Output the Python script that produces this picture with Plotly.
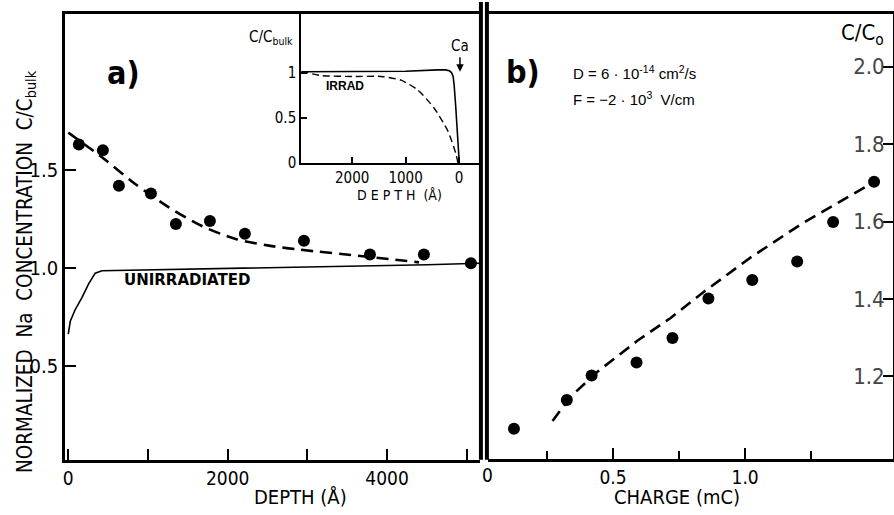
import plotly.graph_objects as go

W, H = 894, 515
FONT = "Liberation Sans Narrow, DejaVu Sans Condensed, Roboto Condensed, Noto Sans Condensed, Open Sans Condensed, Roboto"
FONT_R = "Liberation Sans, Arial, sans-serif"
FONT_B = "DejaVu Sans, Liberation Sans, sans-serif"

# ---- panel a) main data ----
depth_pts = [133, 434, 635, 1037, 1350, 1777, 2216, 2957, 3785, 4462, 5052]
conc_pts = [1.63, 1.60, 1.42, 1.38, 1.225, 1.24, 1.175, 1.14, 1.07, 1.07, 1.025]
fit_depth = [0, 422, 836, 1262, 1677, 2091, 2518, 2893, 3722, 4400]
fit_conc = [1.69, 1.565, 1.43, 1.31, 1.215, 1.15, 1.115, 1.095, 1.06, 1.03]
unirr_depth = [0, 25, 87, 171, 255, 338, 422, 1500, 3000, 4500, 5165]
unirr_conc = [0.665, 0.73, 0.79, 0.85, 0.92, 0.975, 0.987, 0.995, 1.005, 1.018, 1.025]
depth_ticks = [0, 2000, 4000]
depth_minor = [1000, 3000, 5000]
conc_ticks = [0.5, 1.0, 1.5]
conc_ticktext = ["0.5", "1.0", "1.5"]

# ---- inset data ----
ins_solid_depth = [2953, 2000, 1000, 400, 250, 180, 140, 110, 90, 60, 24, -6]
ins_solid_conc = [1.01, 1.01, 1.015, 1.03, 1.03, 1.02, 1.0, 0.96, 0.86, 0.62, 0.30, 0.0]
ins_irr_depth = [2953, 2580, 1960, 1458, 1084, 772, 467, 211, 56, 19]
ins_irr_conc = [1.014, 0.967, 0.957, 0.957, 0.916, 0.808, 0.609, 0.359, 0.10, 0.0]
ins_xticks = [2000, 1000, 0]
ins_yticks = [0, 0.5, 1]
ins_yticktext = ["0", "0.5", "1"]

# ---- panel b) data ----
charge_pts = [0.125, 0.325, 0.419, 0.589, 0.725, 0.861, 1.027, 1.197, 1.333, 1.488]
ratio_pts = [1.065, 1.139, 1.2025, 1.236, 1.299, 1.401, 1.449, 1.497, 1.599, 1.703]
charge_fit = [0.271, 0.340, 0.441, 0.592, 0.718, 0.843, 1.020, 1.220, 1.466]
ratio_fit = [1.085, 1.148, 1.212, 1.292, 1.351, 1.418, 1.507, 1.597, 1.694]
charge_ticks = [0.5, 1.0, 1.5]
charge_ticktext = ["0.5", "1.0", "1.5"]
charge_minor = [0.25, 0.75, 1.25]
ratio_ticks = [1.2, 1.4, 1.6, 1.8, 2.0]
ratio_ticktext = ["1.2", "1.4", "1.6", "1.8", "2.0"]


def xp(px):
    return px / W


def yp(py):
    return 1 - py / H


fig = go.Figure()

# panel a
fig.add_trace(go.Scatter(x=fit_depth, y=fit_conc, mode="lines",
                         line=dict(color="black", width=2.6, dash="12px,7px", shape="spline", smoothing=0.8),
                         xaxis="x", yaxis="y"))
fig.add_trace(go.Scatter(x=unirr_depth, y=unirr_conc, mode="lines", line=dict(color="black", width=1.6),
                         xaxis="x", yaxis="y"))
fig.add_trace(go.Scatter(x=depth_pts, y=conc_pts, mode="markers", marker=dict(color="black", size=12),
                         xaxis="x", yaxis="y"))
# inset
fig.add_trace(go.Scatter(x=ins_solid_depth, y=ins_solid_conc, mode="lines", line=dict(color="black", width=1.6),
                         xaxis="x2", yaxis="y2"))
fig.add_trace(go.Scatter(x=ins_irr_depth, y=ins_irr_conc, mode="lines",
                         line=dict(color="black", width=1.4, dash="7px,4px", shape="spline", smoothing=0.6),
                         xaxis="x2", yaxis="y2"))
# panel b
fig.add_trace(go.Scatter(x=charge_fit, y=ratio_fit, mode="lines",
                         line=dict(color="black", width=2.6, dash="12px,7px"),
                         xaxis="x3", yaxis="y3"))
fig.add_trace(go.Scatter(x=charge_pts, y=ratio_pts, mode="markers", marker=dict(color="black", size=12),
                         xaxis="x3", yaxis="y3"))

axcommon = dict(showgrid=False, zeroline=False, showline=True, linecolor="black", color="black")

fig.update_layout(
    width=W, height=H, margin=dict(l=0, r=0, t=0, b=0),
    paper_bgcolor="white", plot_bgcolor="rgba(0,0,0,0)", showlegend=False,
    xaxis=dict(**axcommon, domain=[xp(63), xp(479)], range=[-43, 5165], anchor="y",
               tickvals=depth_ticks, ticks="inside", ticklen=11, tickwidth=2,
               minor=dict(tickvals=depth_minor, ticks="inside", ticklen=11, tickwidth=2, tickcolor="black"),
               linewidth=2.5, mirror=True, tickfont=dict(family=FONT, size=19)),
    yaxis=dict(**axcommon, domain=[yp(468), yp(14)], range=[0.025, 2.295], anchor="x",
               tickvals=conc_ticks, ticktext=conc_ticktext, ticks="inside", ticklen=11, tickwidth=2,
               linewidth=2.5, tickfont=dict(family=FONT, size=20)),
    xaxis2=dict(**axcommon, domain=[xp(300), xp(478)], range=[2953, -374], anchor="y2",
                tickvals=ins_xticks, ticks="inside", ticklen=6, tickwidth=2, linewidth=2.2,
                tickfont=dict(family=FONT, size=15)),
    yaxis2=dict(**axcommon, domain=[yp(166), yp(14)], range=[0, 1.65], anchor="x2",
                tickvals=ins_yticks, ticktext=ins_yticktext, ticks="inside", ticklen=6, tickwidth=2, linewidth=2.2,
                tickfont=dict(family=FONT, size=15)),
    xaxis3=dict(**axcommon, domain=[xp(487), xp(893)], range=[0.0264, 1.5597], anchor="y3",
                tickvals=charge_ticks, ticktext=charge_ticktext, ticks="inside", ticklen=11, tickwidth=2,
                minor=dict(tickvals=charge_minor, ticks="inside", ticklen=8, tickwidth=2, tickcolor="black"),
                linewidth=2.5, mirror=True, tickfont=dict(family=FONT, size=19)),
    yaxis3=dict(**axcommon, domain=[yp(467), yp(14)], range=[0.987, 2.137], anchor="x3", side="right",
                tickvals=ratio_ticks, ticktext=ratio_ticktext, ticks="inside", ticklen=10, tickwidth=2,
                ticklabelposition="inside", linewidth=2.5, tickfont=dict(family=FONT, size=22)),
)

shapes = [
    dict(type="rect", xref="paper", yref="paper", x0=xp(478), x1=xp(482), y0=yp(468), y1=yp(2),
         fillcolor="black", line=dict(width=0)),
    dict(type="rect", xref="paper", yref="paper", x0=xp(484), x1=xp(488), y0=yp(468), y1=yp(2),
         fillcolor="black", line=dict(width=0)),
]
fig.update_layout(shapes=shapes)

ann = []


def add_text(text, x, y, size, family=FONT, angle=0, xanchor="center", yanchor="middle"):
    ann.append(dict(text=text, x=xp(x), y=yp(y), xref="paper", yref="paper", showarrow=False,
                    font=dict(family=family, size=size, color="black"), textangle=angle,
                    xanchor=xanchor, yanchor=yanchor))


add_text("NORMALIZED  Na  CONCENTRATION  C/C<sub>bulk</sub>", 24, 276, 20.5, angle=-90)
add_text("DEPTH (Å)", 299, 506, 20)
add_text("CHARGE (mC)", 677, 506, 20)
add_text("0", 487, 483, 19)
add_text("<b>a)</b>", 122, 74, 32)
add_text("<b>b)</b>", 522, 73, 32)
add_text("<b>UNIRRADIATED</b>", 185, 285, 15, family=FONT_B)
add_text("<b>IRRAD</b>", 344, 88, 12, family=FONT_R)
add_text("C/C<sub>bulk</sub>", 270, 38, 15)
add_text("Ca", 459, 47, 15)
add_text("D E P T H  (Å)", 398, 198, 14)
add_text("D = 6 · 10<sup>-14</sup> cm<sup>2</sup>/s", 570, 74, 15, family=FONT_R, xanchor="left")
add_text("F = −2 · 10<sup>3</sup>  V/cm", 570, 100, 15, family=FONT_R, xanchor="left")
add_text("C/C<sub>o</sub>", 862, 35, 22)

ann.append(dict(x=xp(459), y=yp(73), ax=0, ay=-16, xref="paper", yref="paper",
                showarrow=True, arrowhead=2, arrowsize=1, arrowwidth=1.5, arrowcolor="black", text=""))
fig.update_layout(annotations=ann)

fig.write_html("out.html")
